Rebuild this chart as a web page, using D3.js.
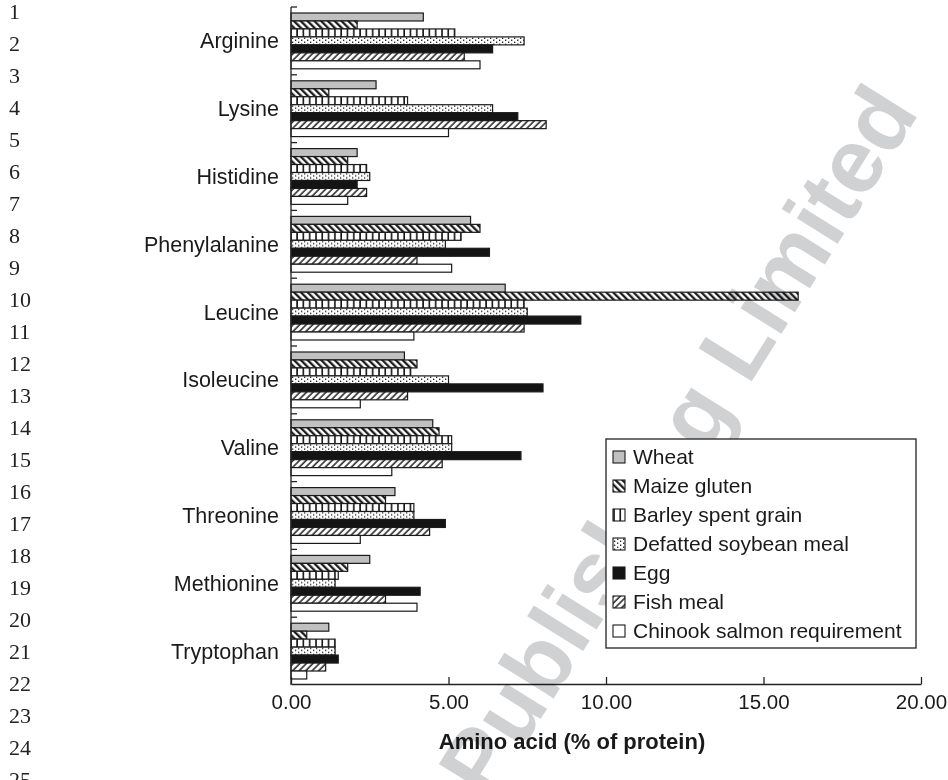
<!DOCTYPE html>
<html>
<head>
<meta charset="utf-8">
<script src="https://cdn.jsdelivr.net/npm/d3@7/dist/d3.min.js"></script>
<style>
  body { margin: 0; background: #fff; }
  svg { display: block; font-family: 'Liberation Sans', Arial, sans-serif; }
  .watermark { mix-blend-mode: multiply; }
</style>
</head>
<body>
<div id="chart"></div>
<script>

var categories = ['Arginine', 'Lysine', 'Histidine', 'Phenylalanine', 'Leucine',
  'Isoleucine', 'Valine', 'Threonine', 'Methionine', 'Tryptophan']

var seriesNames = ['Wheat', 'Maize gluten', 'Barley spent grain', 'Defatted soybean meal',
  'Egg', 'Fish meal', 'Chinook salmon requirement']

var wheat   = [4.2, 2.7, 2.1, 5.7, 6.8, 3.6, 4.5, 3.3, 2.5, 1.2]
var maize   = [2.1, 1.2, 1.8, 6.0, 16.1, 4.0, 4.7, 3.0, 1.8, 0.5]
var barley  = [5.2, 3.7, 2.4, 5.4, 7.4, 3.8, 5.1, 3.9, 1.5, 1.4]
var soybean = [7.4, 6.4, 2.5, 4.9, 7.5, 5.0, 5.1, 3.9, 1.4, 1.4]
var egg     = [6.4, 7.2, 2.1, 6.3, 9.2, 8.0, 7.3, 4.9, 4.1, 1.5]
var fish    = [5.5, 8.1, 2.4, 4.0, 7.4, 3.7, 4.8, 4.4, 3.0, 1.1]
var chinook = [6.0, 5.0, 1.8, 5.1, 3.9, 2.2, 3.2, 2.2, 4.0, 0.5]

var xTicks = [0, 5, 10, 15, 20]
var lineNumbers = d3.range(1, 26)

var seriesValues = [wheat, maize, barley, soybean, egg, fish, chinook]
var fills = ['#c0c0c0', 'url(#p-maize)', 'url(#p-barley)', 'url(#p-soy)', '#141414', 'url(#p-fish)', '#fff']

var width = 948, height = 780

var svg = d3.select('#chart').append('svg')
  .attr('width', width).attr('height', height)

var defs = svg.append('defs')

// hatch patterns for the black and white bars
var pm = defs.append('pattern').attr('id', 'p-maize')
  .attr('patternUnits', 'userSpaceOnUse').attr('width', 4.8).attr('height', 4.8)
  .attr('patternTransform', 'rotate(-45)')
pm.append('rect').attr('width', 4.8).attr('height', 4.8).attr('fill', '#fff')
pm.append('line').attr('x1', 1.2).attr('x2', 1.2).attr('y1', 0).attr('y2', 4.8)
  .attr('stroke', '#111').attr('stroke-width', 2.2)

var pf = defs.append('pattern').attr('id', 'p-fish')
  .attr('patternUnits', 'userSpaceOnUse').attr('width', 4.6).attr('height', 4.6)
  .attr('patternTransform', 'rotate(45)')
pf.append('rect').attr('width', 4.6).attr('height', 4.6).attr('fill', '#fff')
pf.append('line').attr('x1', 1).attr('x2', 1).attr('y1', 0).attr('y2', 4.6)
  .attr('stroke', '#111').attr('stroke-width', 1.4)

var pb = defs.append('pattern').attr('id', 'p-barley')
  .attr('patternUnits', 'userSpaceOnUse').attr('width', 6.3).attr('height', 10)
pb.append('rect').attr('width', 6.3).attr('height', 10).attr('fill', '#fff')
pb.append('line').attr('x1', 1).attr('x2', 1).attr('y1', 0).attr('y2', 10)
  .attr('stroke', '#111').attr('stroke-width', 1.6)

var ps = defs.append('pattern').attr('id', 'p-soy')
  .attr('patternUnits', 'userSpaceOnUse').attr('width', 6).attr('height', 4)
ps.append('rect').attr('width', 6).attr('height', 4).attr('fill', '#fff')
ps.append('rect').attr('x', 1).attr('y', 0.6).attr('width', 1.3).attr('height', 1.3).attr('fill', '#111')
ps.append('rect').attr('x', 4).attr('y', 2.6).attr('width', 1.3).attr('height', 1.3).attr('fill', '#111')

var x = d3.scaleLinear().domain([0, 20]).range([291, 921])
var y = d3.scaleBand().domain(categories).range([7, 685])
var yInner = d3.scaleBand().domain(seriesNames).range([6, y.bandwidth() - 6])

// line numbers of the page on the left
svg.append('g').selectAll('text').data(lineNumbers).enter().append('text')
  .attr('x', 9).attr('y', function(d){ return 19 + (d - 1) * 32 })
  .style('font-family', "'Liberation Serif', 'Times New Roman', serif")
  .style('font-size', '22px').attr('fill', '#222')
  .text(function(d){ return d })

// bars
var groups = svg.append('g').selectAll('g').data(categories).enter().append('g')
  .attr('transform', function(d){ return 'translate(0,' + y(d) + ')' })

groups.selectAll('rect')
  .data(function(d, i){ return seriesNames.map(function(s, j){ return {series: s, j: j, value: seriesValues[j][i]} }) })
  .enter().append('rect')
  .attr('x', x(0))
  .attr('y', function(d){ return yInner(d.series) })
  .attr('width', function(d){ return x(d.value) - x(0) })
  .attr('height', yInner.bandwidth())
  .attr('fill', function(d){ return fills[d.j] })
  .attr('stroke', '#1a1a1a').attr('stroke-width', 1.2)

// category labels
svg.append('g').selectAll('text').data(categories).enter().append('text')
  .attr('x', 279).attr('y', function(d){ return y(d) + y.bandwidth() / 2 })
  .attr('dy', '0.35em').attr('text-anchor', 'end')
  .style('font-size', '21.5px').attr('fill', '#1a1a1a')
  .text(function(d){ return d })

// y axis with ticks between categories
var yAxis = svg.append('g')
yAxis.append('line').attr('x1', x(0)).attr('x2', x(0)).attr('y1', y.range()[0]).attr('y2', y.range()[1])
  .attr('stroke', '#222').attr('stroke-width', 1.3)
yAxis.selectAll('line.tick').data(categories).enter().append('line').attr('class', 'tick')
  .attr('x1', x(0)).attr('x2', x(0) + 6)
  .attr('y1', function(d){ return y(d) }).attr('y2', function(d){ return y(d) })
  .attr('stroke', '#222').attr('stroke-width', 1.3)

// x axis
var xAxis = svg.append('g').attr('transform', 'translate(0,684)')
  .call(d3.axisBottom(x).tickValues(xTicks).tickSize(-7).tickSizeOuter(0).tickPadding(10)
    .tickFormat(d3.format('.2f')))
xAxis.select('.domain').attr('stroke', '#222').attr('stroke-width', 1.3)
xAxis.selectAll('.tick line').attr('stroke', '#222').attr('stroke-width', 1.3)
xAxis.selectAll('text').style('font-size', '20.5px').style('font-family', "'Liberation Sans', Arial, sans-serif").attr('fill', '#1a1a1a')

svg.append('text').attr('x', 572).attr('y', 741).attr('dy', '0.35em')
  .attr('text-anchor', 'middle').style('font-size', '22px').style('font-weight', 'bold')
  .attr('fill', '#1a1a1a')
  .text('Amino acid (% of protein)')

// publisher watermark, under the legend box
svg.append('text').attr('class', 'watermark')
  .attr('transform', 'translate(920,112) rotate(-58)')
  .attr('text-anchor', 'end')
  .style('font-size', '91px').style('font-weight', 'bold')
  .attr('fill', '#d0d1d3')
  .text('Publishing Limited')

// legend
var legend = svg.append('g').attr('transform', 'translate(606,439)')
legend.append('rect').attr('width', 310).attr('height', 209)
  .attr('fill', '#fff').attr('stroke', '#222').attr('stroke-width', 1.3)

var item = legend.selectAll('g').data(seriesNames).enter().append('g')
  .attr('transform', function(d, i){ return 'translate(7,' + (18 + i * 29) + ')' })
item.append('rect').attr('x', 0).attr('y', -6).attr('width', 12).attr('height', 12)
  .attr('fill', function(d, i){ return fills[i] })
  .attr('stroke', '#1a1a1a').attr('stroke-width', 1.1)
item.append('text').attr('x', 20).attr('dy', '0.35em')
  .style('font-size', '21px').attr('fill', '#1a1a1a')
  .text(function(d){ return d })

</script>
</body>
</html>
